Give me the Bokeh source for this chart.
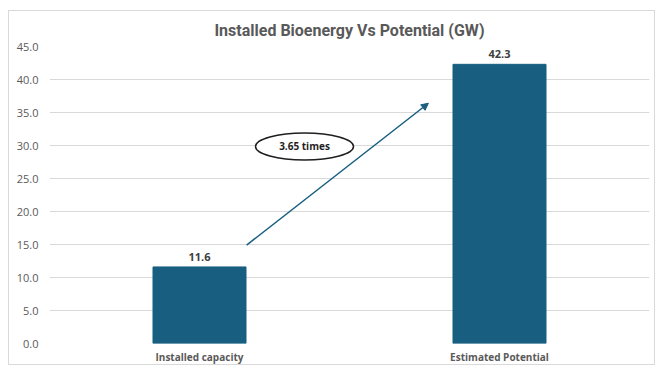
from bokeh.plotting import figure
from bokeh.models import ColumnDataSource, Range1d, Arrow, NormalHead, LabelSet, Label, FixedTicker
from bokeh.core.properties import value
from bokeh.embed import file_html
from bokeh.resources import INLINE

# Bioenergy capacity data (GW)
categories = ["Installed capacity", "Estimated Potential"]
values = [11.6, 42.3]
y_ticks = [0, 5, 10, 15, 20, 25, 30, 35, 40, 45]

BAR = "#175e81"
GREY = "#595959"

xs = [i + 0.5 for i in range(len(categories))]
src = ColumnDataSource(dict(x=xs, top=values, label=[f"{v:.1f}" for v in values]))

p = figure(width=647, height=355, output_backend="svg", toolbar_location=None,
           x_range=Range1d(0, len(categories)), y_range=Range1d(0, 45),
           min_border_left=40, min_border_right=7, min_border_top=30, min_border_bottom=10,
           title="Installed Bioenergy Vs Potential (GW)")
p.margin = (10, 2, 0, 8)
p.styles = {"border": "1px solid #d9d9d9"}
p.outline_line_color = None
p.background_fill_color = "white"
p.border_fill_color = "white"

p.title.align = "center"
p.title.text_font = "Roboto"
p.title.text_font_size = "16px"
p.title.text_font_style = "bold"
p.title.text_color = GREY
p.title.standoff = 14

p.vbar(x="x", top="top", width=0.31, bottom=0, source=src, fill_color=BAR, line_color=BAR)

p.add_layout(LabelSet(x="x", y="top", text="label", source=src, text_align="center",
                      text_baseline="bottom", y_offset=6, text_font=value("Open Sans"),
                      text_font_size=value("11px"), text_font_style="bold", text_color="#404040"))

# growth arrow between the two bars with the ratio annotation
ratio = values[1] / values[0]
p.add_layout(Arrow(end=NormalHead(size=7, fill_color=BAR, line_color=BAR),
                   x_start=xs[0] + 0.157, y_start=values[0] + 3.3,
                   x_end=xs[1] - 0.237, y_end=values[1] - 5.9,
                   line_color=BAR, line_width=1.5))
p.ellipse(x=[0.85], y=[29.85], width=[98], height=[27], width_units="screen", height_units="screen",
          fill_color="white", line_color="#1f1f1f", line_width=1.5)
p.add_layout(Label(x=0.85, y=29.85, text=f"{ratio:.2f} times", text_align="center",
                   text_baseline="middle", text_font="Open Sans", text_font_size="10px",
                   text_font_style="bold", text_color="#1f1f1f"))

p.xaxis.ticker = FixedTicker(ticks=xs)
p.xaxis.major_label_overrides = {x: c for x, c in zip(xs, categories)}
p.xaxis.major_label_text_font = "Open Sans"
p.xaxis.major_label_text_font_size = "10px"
p.xaxis.major_label_text_font_style = "bold"
p.xaxis.major_label_text_color = GREY
p.xaxis.major_label_standoff = 0

p.yaxis.ticker = FixedTicker(ticks=y_ticks)
p.yaxis.major_label_overrides = {t: f"{t:.1f}" for t in y_ticks}
p.yaxis.major_label_text_font = "Open Sans"
p.yaxis.major_label_text_font_size = "11px"
p.yaxis.major_label_text_color = GREY
p.yaxis.major_label_standoff = 5

for ax in (p.xaxis, p.yaxis):
    ax.axis_line_color = None
    ax.major_tick_line_color = None
    ax.minor_tick_line_color = None

p.xgrid.grid_line_color = None
p.ygrid.grid_line_color = "#d9d9d9"
p.ygrid.grid_line_width = 1

open("out.html", "w").write(file_html(p, INLINE))
